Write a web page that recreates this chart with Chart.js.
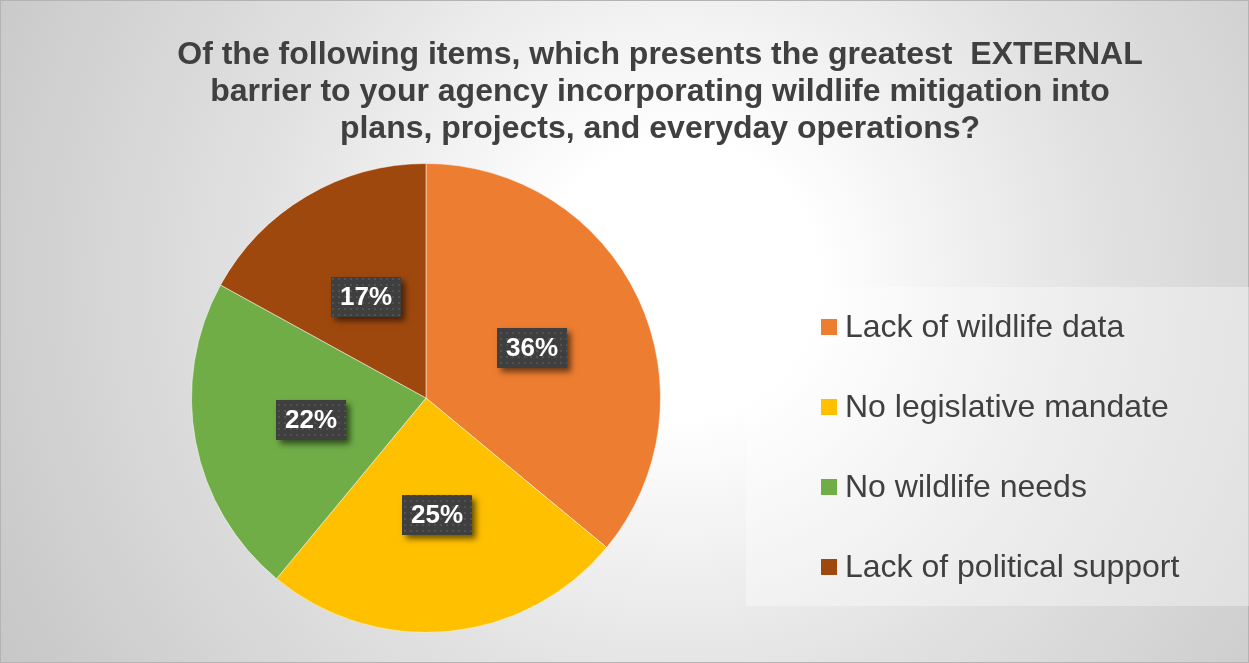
<!DOCTYPE html>
<html>
<head>
<meta charset="utf-8">
<script src="https://cdn.jsdelivr.net/npm/chart.js@4.4.1/dist/chart.umd.min.js"></script>
<style>
    html, body { margin: 0; padding: 0; background: #fff; }
    #wrap { width: 1249px; height: 663px; position: relative; }
</style>
</head>
<body>
<div id="wrap"><canvas id="pieChart"></canvas></div>
<script>
const categories = [
    'Lack of wildlife data',
    'No legislative mandate',
    'No wildlife needs',
    'Lack of political support'
];
const shares = [36, 25, 22, 17];
const sliceColors = ['#ED7D31', '#FFC000', '#70AD47', '#9E480E'];
const titleLines = [
    'Of the following items, which presents the greatest  EXTERNAL',
    'barrier to your agency incorporating wildlife mitigation into',
    'plans, projects, and everyday operations?'
];

const FONT = '"Liberation Sans", Arial, sans-serif';

// fundo com degradê radial + moldura
const fundo = {
    id: 'fundo',
    beforeDraw(chart) {
        const { ctx, width, height } = chart;
        const g = ctx.createRadialGradient(680, 280, 0, 680, 280, 760);
        g.addColorStop(0, '#ffffff');
        g.addColorStop(0.18, '#ffffff');
        g.addColorStop(0.55, '#e2e2e2');
        g.addColorStop(1, '#c8c8c8');
        ctx.save();
        ctx.fillStyle = g;
        ctx.fillRect(0, 0, width, height);
        ctx.strokeStyle = '#b4b4b4';
        ctx.lineWidth = 1;
        ctx.strokeRect(0.5, 0.5, width - 1, height - 1);
        ctx.restore();
    }
};

// título em três linhas
const titulo = {
    id: 'titulo',
    afterDraw(chart) {
        const { ctx } = chart;
        ctx.save();
        ctx.fillStyle = '#404040';
        ctx.font = `bold 32px ${FONT}`;
        ctx.textAlign = 'center';
        ctx.textBaseline = 'alphabetic';
        titleLines.forEach((linha, i) => {
            ctx.fillText(linha, 660, 64 + i * 37);
        });
        ctx.restore();
    }
};

// legenda à direita, com caixa clara
const legenda = {
    id: 'legenda',
    afterDraw(chart) {
        const { ctx } = chart;
        ctx.save();
        ctx.fillStyle = 'rgba(255,255,255,0.35)';
        ctx.fillRect(746, 287, 503, 319);
        ctx.font = `32px ${FONT}`;
        ctx.textBaseline = 'middle';
        ctx.textAlign = 'left';
        chart.data.labels.forEach((rotulo, i) => {
            const y = 327 + i * 80;
            ctx.fillStyle = chart.data.datasets[0].backgroundColor[i];
            ctx.fillRect(821, y - 8, 16, 16);
            ctx.fillStyle = '#404040';
            ctx.fillText(rotulo, 845, y + 1);
        });
        ctx.restore();
    }
};

// rótulos de porcentagem em caixas escuras
const rotulos = {
    id: 'rotulos',
    afterDatasetsDraw(chart) {
        const { ctx } = chart;
        const tile = document.createElement('canvas');
        tile.width = 6;
        tile.height = 6;
        const tctx = tile.getContext('2d');
        tctx.fillStyle = '#3f3f3f';
        tctx.fillRect(0, 0, 6, 6);
        tctx.fillStyle = '#525252';
        tctx.fillRect(2, 2, 2, 2);
        const padrao = ctx.createPattern(tile, 'repeat');

        const meta = chart.getDatasetMeta(0);
        ctx.save();
        ctx.font = `bold 26px ${FONT}`;
        meta.data.forEach((arc, i) => {
            const { x, y } = arc.tooltipPosition();
            const texto = `${chart.data.datasets[0].data[i]}%`;
            const w = ctx.measureText(texto).width + 18;
            const h = 40;
            const bx = Math.round(x - w / 2);
            const by = Math.round(y - h / 2);

            ctx.save();
            ctx.shadowColor = 'rgba(0,0,0,0.55)';
            ctx.shadowBlur = 6;
            ctx.shadowOffsetX = 4;
            ctx.shadowOffsetY = 4;
            ctx.fillStyle = '#3f3f3f';
            ctx.fillRect(bx, by, w, h);
            ctx.restore();

            ctx.fillStyle = padrao;
            ctx.fillRect(bx, by, w, h);

            ctx.fillStyle = '#ffffff';
            ctx.textAlign = 'center';
            ctx.textBaseline = 'middle';
            ctx.fillText(texto, bx + w / 2, by + h / 2 + 1);
        });
        ctx.restore();
    }
};

const ctx = document.getElementById('pieChart').getContext('2d');
new Chart(ctx, {
    type: 'pie',
    data: {
        labels: categories,
        datasets: [{
            data: shares,
            backgroundColor: sliceColors,
            borderColor: 'rgba(255,255,255,0.5)',
            borderWidth: 1
        }]
    },
    options: {
        responsive: true,
        maintainAspectRatio: false,
        animation: false,
        layout: {
            padding: { left: 191, right: 588, top: 163, bottom: 30 }
        },
        plugins: {
            legend: { display: false },
            title: { display: false },
            tooltip: { enabled: false }
        }
    },
    plugins: [fundo, rotulos, titulo, legenda]
});
</script>
</body>
</html>
